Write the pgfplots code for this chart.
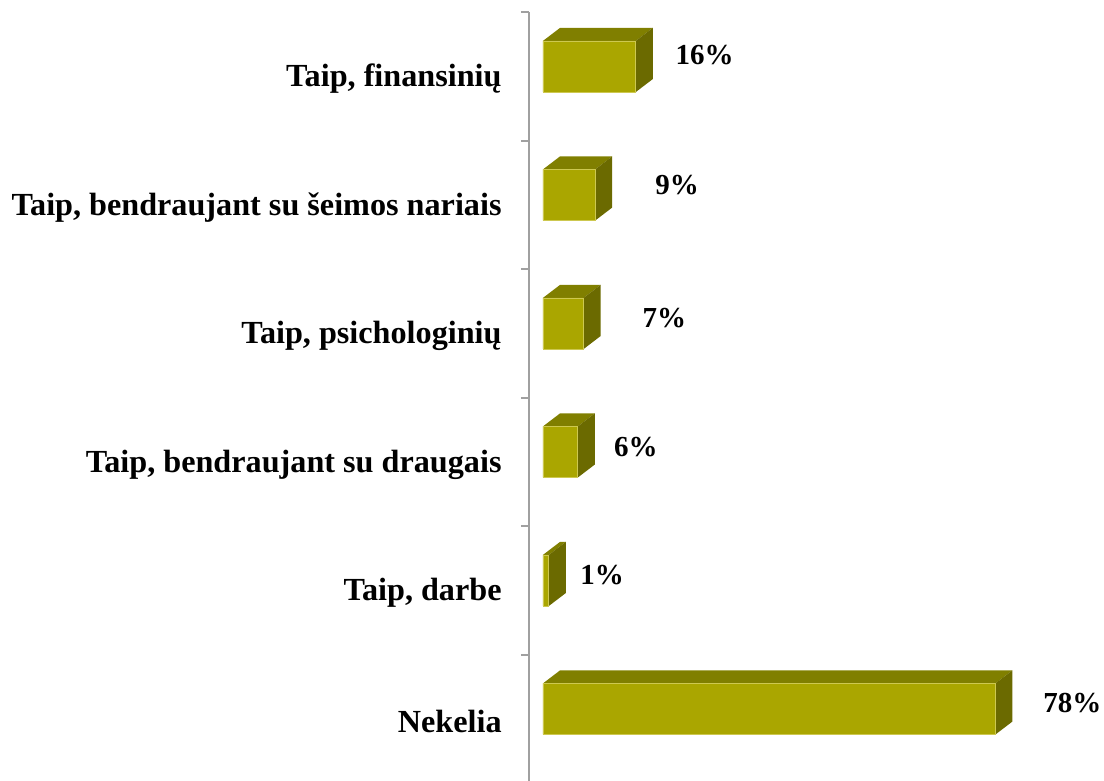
\documentclass[border=0pt]{standalone}
\usepackage{pgfplots}
\pgfplotsset{compat=1.18}
\usepackage{fontspec}
\setmainfont{Liberation Serif}
\definecolor{frontc}{RGB}{170,166,0}
\definecolor{frontedge}{RGB}{205,200,80}
\definecolor{topc}{RGB}{128,127,0}
\definecolor{sidec}{RGB}{107,106,0}
\definecolor{axisgray}{RGB}{160,160,160}
\begin{document}
\begin{tikzpicture}
\useasboundingbox (0pt,0pt) rectangle (552pt,390.5pt);
\begin{axis}[
  at={(264.5pt,-1.125pt)}, anchor=south west,
  scale only axis, width=282.5pt, height=385.5pt,
  xmin=-2.41, xmax=95, ymin=-0.5, ymax=5.5,
  clip=false,
  axis x line=none,
  axis y line*=left,
  y axis line style={-, draw=axisgray, line width=1pt},
  xtick=\empty,
  ytick={0,1,2,3,4,5},
  yticklabels={{Nekelia},{Taip, darbe},{Taip, bendraujant su draugais},{Taip, psichologinių},{Taip, bendraujant su šeimos nariais},{Taip, finansinių}},
  yticklabel style={anchor=east, inner sep=0pt, xshift=-13.5pt, yshift=-1.25pt, font=\fontsize{16.1}{18}\selectfont\bfseries},
  major tick length=0pt,
  minor ytick={-0.5,0.5,1.5,2.5,3.5,4.5,5.5},
  minor tick length=4pt,
  tick align=outside,
  minor tick style={draw=axisgray, line width=1pt},
  major tick style={draw=none},
]
% top faces
\addplot[fill=topc, draw=none] coordinates {(0,5.277) (16,5.277) (18.93,5.378) (2.93,5.378)} --cycle;
\addplot[fill=topc, draw=none] coordinates {(0,4.277) (9,4.277) (11.93,4.378) (2.93,4.378)} --cycle;
\addplot[fill=topc, draw=none] coordinates {(0,3.277) (7,3.277) (9.93,3.378) (2.93,3.378)} --cycle;
\addplot[fill=topc, draw=none] coordinates {(0,2.277) (6,2.277) (8.93,2.378) (2.93,2.378)} --cycle;
\addplot[fill=topc, draw=none] coordinates {(0,1.277) (1,1.277) (3.93,1.378) (2.93,1.378)} --cycle;
\addplot[fill=topc, draw=none] coordinates {(0,0.277) (78,0.277) (80.93,0.378) (2.93,0.378)} --cycle;
% side faces
\addplot[fill=sidec, draw=none] coordinates {(16,5.277) (18.93,5.378) (18.93,4.980) (16,4.879)} --cycle;
\addplot[fill=sidec, draw=none] coordinates {(9,4.277) (11.93,4.378) (11.93,3.980) (9,3.879)} --cycle;
\addplot[fill=sidec, draw=none] coordinates {(7,3.277) (9.93,3.378) (9.93,2.980) (7,2.879)} --cycle;
\addplot[fill=sidec, draw=none] coordinates {(6,2.277) (8.93,2.378) (8.93,1.980) (6,1.879)} --cycle;
\addplot[fill=sidec, draw=none] coordinates {(1,1.277) (3.93,1.378) (3.93,0.980) (1,0.879)} --cycle;
\addplot[fill=sidec, draw=none] coordinates {(78,0.277) (80.93,0.378) (80.93,-0.020) (78,-0.121)} --cycle;
% front faces
\addplot[xbar, bar width=25.5pt, fill=frontc, draw=frontedge, line width=0.4pt]
  coordinates {(78,0.078) (1,1.078) (6,2.078) (7,3.078) (9,4.078) (16,5.078)};
% value labels
\begin{scope}[every node/.style={anchor=west, inner sep=0pt, font=\fontsize{14.5}{16}\selectfont\bfseries}]
\node at (axis cs:22.8,5.167) {16\%};
\node at (axis cs:19.3,4.156) {9\%};
\node at (axis cs:17.1,3.12) {7\%};
\node at (axis cs:12.2,2.117) {6\%};
\node at (axis cs:6.4,1.12) {1\%};
\node at (axis cs:86.2,0.125) {78\%};
\end{scope}
\end{axis}
\end{tikzpicture}
\end{document}
